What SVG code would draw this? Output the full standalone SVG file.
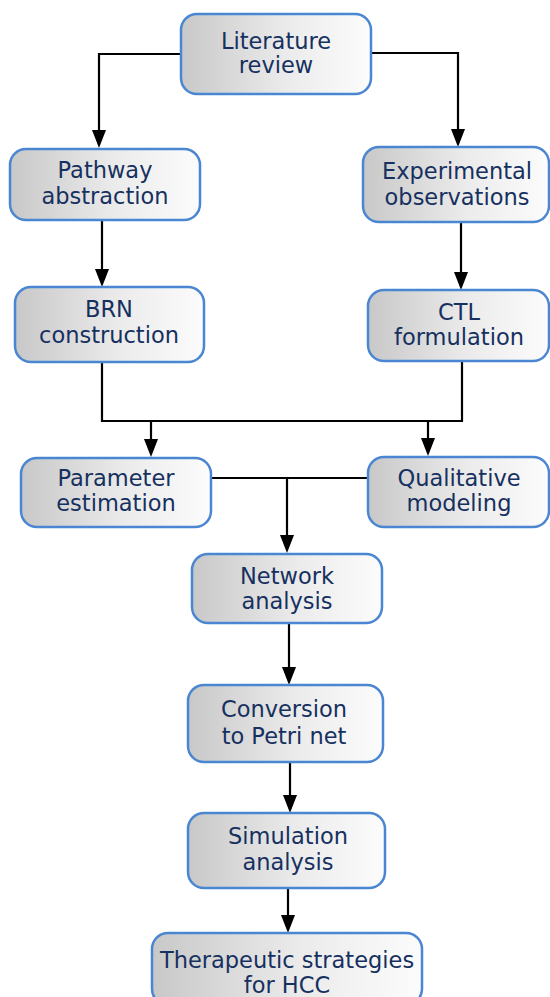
<svg xmlns="http://www.w3.org/2000/svg" width="550" height="997" viewBox="0 0 550 997">
<defs>
<linearGradient id="g" x1="0" y1="0" x2="1" y2="0">
<stop offset="0" stop-color="#c8c8c8"/>
<stop offset="0.55" stop-color="#ebebeb"/>
<stop offset="1" stop-color="#fcfcfc"/>
</linearGradient>
<marker id="arr" markerUnits="userSpaceOnUse" markerWidth="18" markerHeight="14" viewBox="0 0 18 14" refX="14" refY="7" orient="auto">
<path d="M0,0 L18,7 L0,14 z" fill="#000"/>
</marker>
<style>
.box{fill:url(#g);stroke:#4a86d2;stroke-width:2.5}
.t{font-family:"DejaVu Sans",Verdana,sans-serif;font-size:22.5px;fill:#16305f;text-anchor:middle}
.c{fill:none;stroke:#000;stroke-width:2.2}
.a{marker-end:url(#arr)}
</style>
</defs>
<rect width="550" height="997" fill="#fff"/>
<g id="connectors">
<path class="c a" d="M181,54 H99 V144"/>
<path class="c a" d="M371,53 H458 V143"/>
<path class="c a" d="M102,220 V283"/>
<path class="c a" d="M461,222 V286"/>
<path class="c" d="M102,362 V421 H462 V361"/>
<path class="c a" d="M151,421 V453"/>
<path class="c a" d="M428,421 V452"/>
<path class="c" d="M211,478 H368"/>
<path class="c a" d="M287,478 V549"/>
<path class="c a" d="M289,623 V681"/>
<path class="c a" d="M290,762 V809"/>
<path class="c a" d="M288,888 V929"/>
</g>
<g id="literature">
<rect class="box" x="181" y="14" width="190" height="80" rx="16"/>
<text class="t" x="276" y="49">Literature</text>
<text class="t" x="276" y="73">review</text>
</g>
<g id="pathway">
<rect class="box" x="10" y="149" width="190" height="71" rx="16"/>
<text class="t" x="105" y="178">Pathway</text>
<text class="t" x="105" y="204">abstraction</text>
</g>
<g id="experimental">
<rect class="box" x="363" y="147" width="186" height="75" rx="16"/>
<text class="t" x="457" y="179">Experimental</text>
<text class="t" x="457" y="205">observations</text>
</g>
<g id="brn">
<rect class="box" x="15" y="287" width="189" height="75" rx="16"/>
<text class="t" x="109" y="317">BRN</text>
<text class="t" x="109" y="343">construction</text>
</g>
<g id="ctl">
<rect class="box" x="368" y="290" width="181" height="71" rx="16"/>
<text class="t" x="459" y="320">CTL</text>
<text class="t" x="459" y="345">formulation</text>
</g>
<g id="parameter">
<rect class="box" x="21" y="458" width="190" height="69" rx="16"/>
<text class="t" x="116" y="486">Parameter</text>
<text class="t" x="116" y="511">estimation</text>
</g>
<g id="qualitative">
<rect class="box" x="368" y="457" width="181" height="70" rx="16"/>
<text class="t" x="459" y="486">Qualitative</text>
<text class="t" x="459" y="511">modeling</text>
</g>
<g id="network">
<rect class="box" x="192" y="554" width="190" height="69" rx="16"/>
<text class="t" x="287" y="584">Network</text>
<text class="t" x="287" y="609">analysis</text>
</g>
<g id="conversion">
<rect class="box" x="188" y="685" width="195" height="77" rx="16"/>
<text class="t" x="284" y="717">Conversion</text>
<text class="t" x="284" y="744">to Petri net</text>
</g>
<g id="simulation">
<rect class="box" x="188" y="813" width="197" height="75" rx="16"/>
<text class="t" x="288" y="844">Simulation</text>
<text class="t" x="288" y="870">analysis</text>
</g>
<g id="therapeutic">
<rect class="box" x="152" y="933" width="270" height="72" rx="16"/>
<text class="t" x="287" y="968">Therapeutic strategies</text>
<text class="t" x="287" y="993">for HCC</text>
</g>
</svg>
